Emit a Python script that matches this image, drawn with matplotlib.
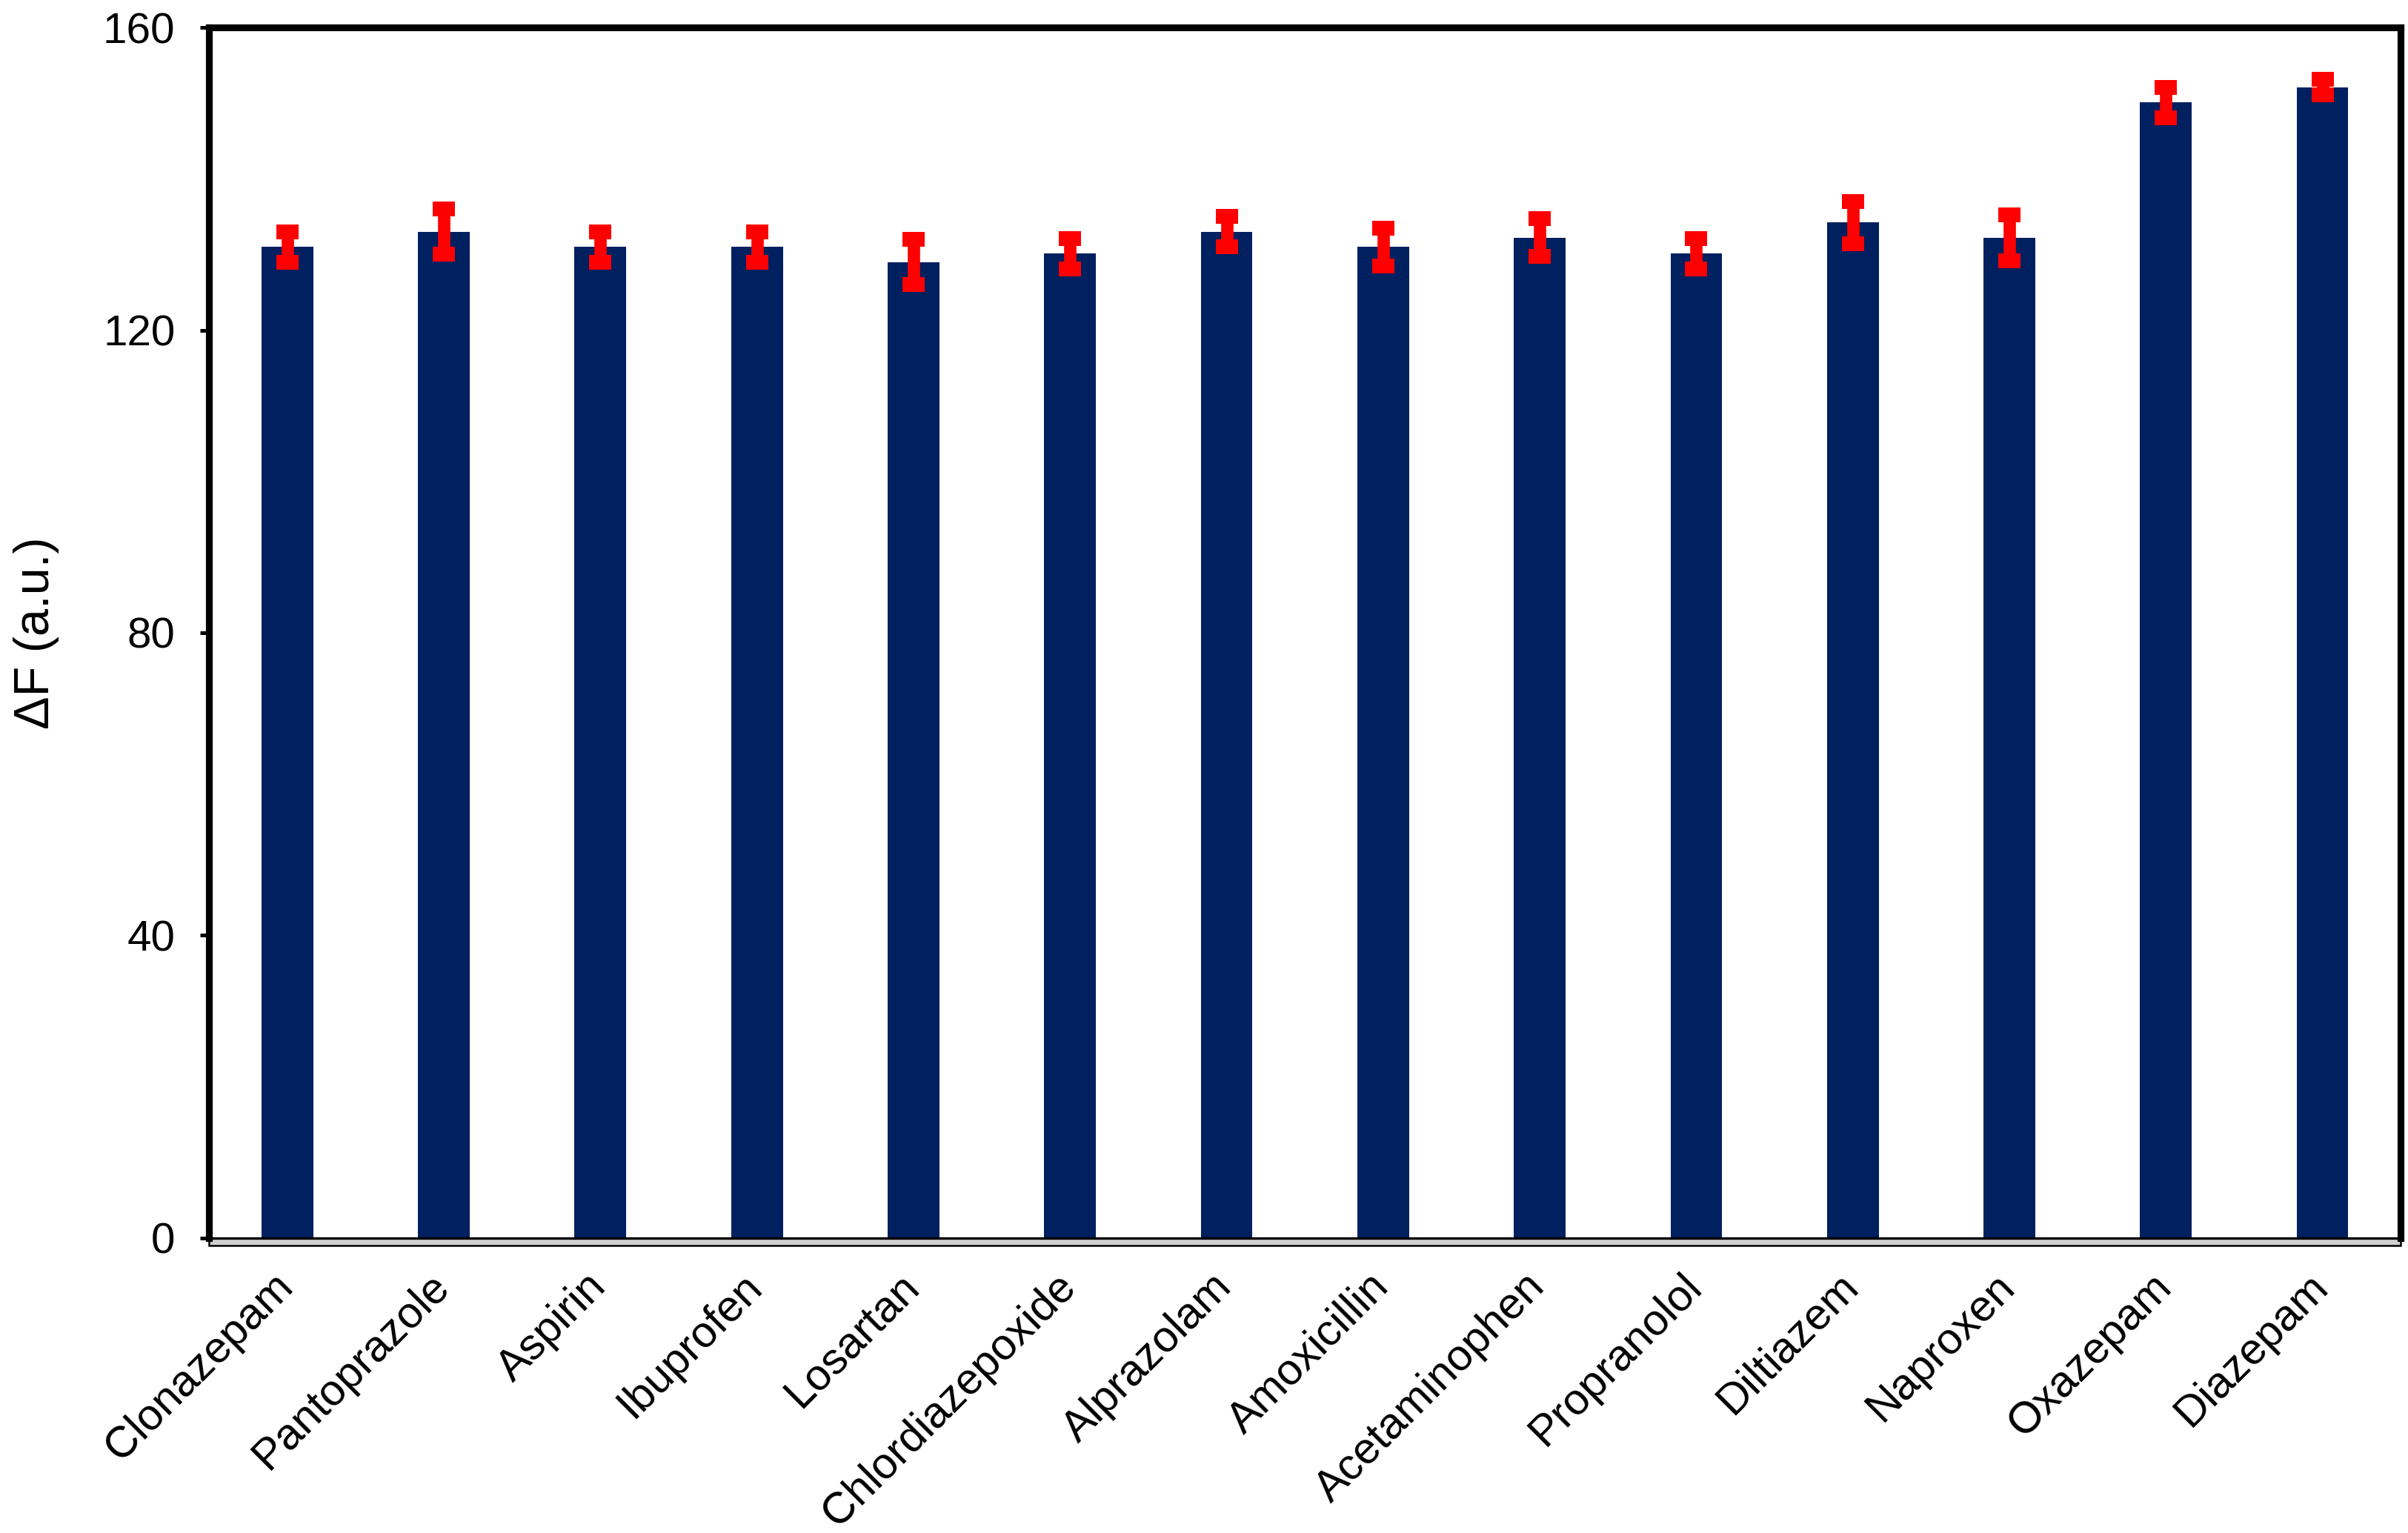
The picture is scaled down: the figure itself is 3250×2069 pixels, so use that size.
import matplotlib.pyplot as plt
from matplotlib.patches import Rectangle
import matplotlib.transforms as mtransforms

plt.rcParams['font.family'] = ['Liberation Sans', 'DejaVu Sans']

drugs = ['Clonazepam', 'Pantoprazole', 'Aspirin', 'Ibuprofen', 'Losartan',
         'Chlordiazepoxide', 'Alprazolam', 'Amoxicillin', 'Acetaminophen',
         'Propranolol', 'Diltiazem', 'Naproxen', 'Oxazepam', 'Diazepam']
delta_f = [131.0, 133.0, 131.0, 131.0, 129.0, 130.1, 133.0, 131.0, 132.2,
           130.1, 134.2, 132.2, 150.1, 152.1]
errors = [2.0, 3.0, 2.0, 2.0, 3.0, 2.0, 2.0, 2.5, 2.5, 2.0, 2.8, 3.0, 2.0, 1.0]
yticks = [0, 40, 80, 120, 160]

fig = plt.figure(figsize=(3250 / 300, 2069 / 300), dpi=300)
ax = fig.add_axes([0.0868, 0.1924, 0.9102, 0.7897])

x = list(range(len(drugs)))
ax.bar(x, delta_f, width=0.33, color='#002060', zorder=2)
ax.errorbar(x, delta_f, yerr=errors, fmt='none', ecolor='#ff0000',
            elinewidth=4, capsize=3.6, capthick=4.8, zorder=3)

ax.set_xlim(-0.5, len(drugs) - 0.5)
ax.set_ylim(0, 160)
ax.set_yticks(yticks)
ax.set_xticks(x)
ax.set_xticklabels(drugs, rotation=45, ha='right', rotation_mode='anchor')
ax.tick_params(axis='x', length=0, labelsize=14.2, pad=9)
ax.tick_params(axis='y', direction='out', length=3, width=1.2, labelsize=14, pad=8)
ax.set_ylabel('\u0394F (a.u.)', fontsize=16, labelpad=14)

# nudge the rotated labels a bit left, like the original
shift = mtransforms.ScaledTranslation(-5 / 72, 0, fig.dpi_scale_trans)
for lbl in ax.get_xticklabels():
    lbl.set_transform(lbl.get_transform() + shift)

for side in ['left', 'top', 'right']:
    ax.spines[side].set_linewidth(2.2)
ax.spines['bottom'].set_linewidth(0.8)

# grey floor strip under the plot area
trans = mtransforms.blended_transform_factory(ax.transAxes, ax.transAxes)
ax.add_patch(Rectangle((0, -0.006), 1, 0.006, transform=trans, facecolor='#d0d0d0',
                       edgecolor='black', linewidth=0.6, clip_on=False, zorder=1))

fig.savefig('out.png', dpi=300)
